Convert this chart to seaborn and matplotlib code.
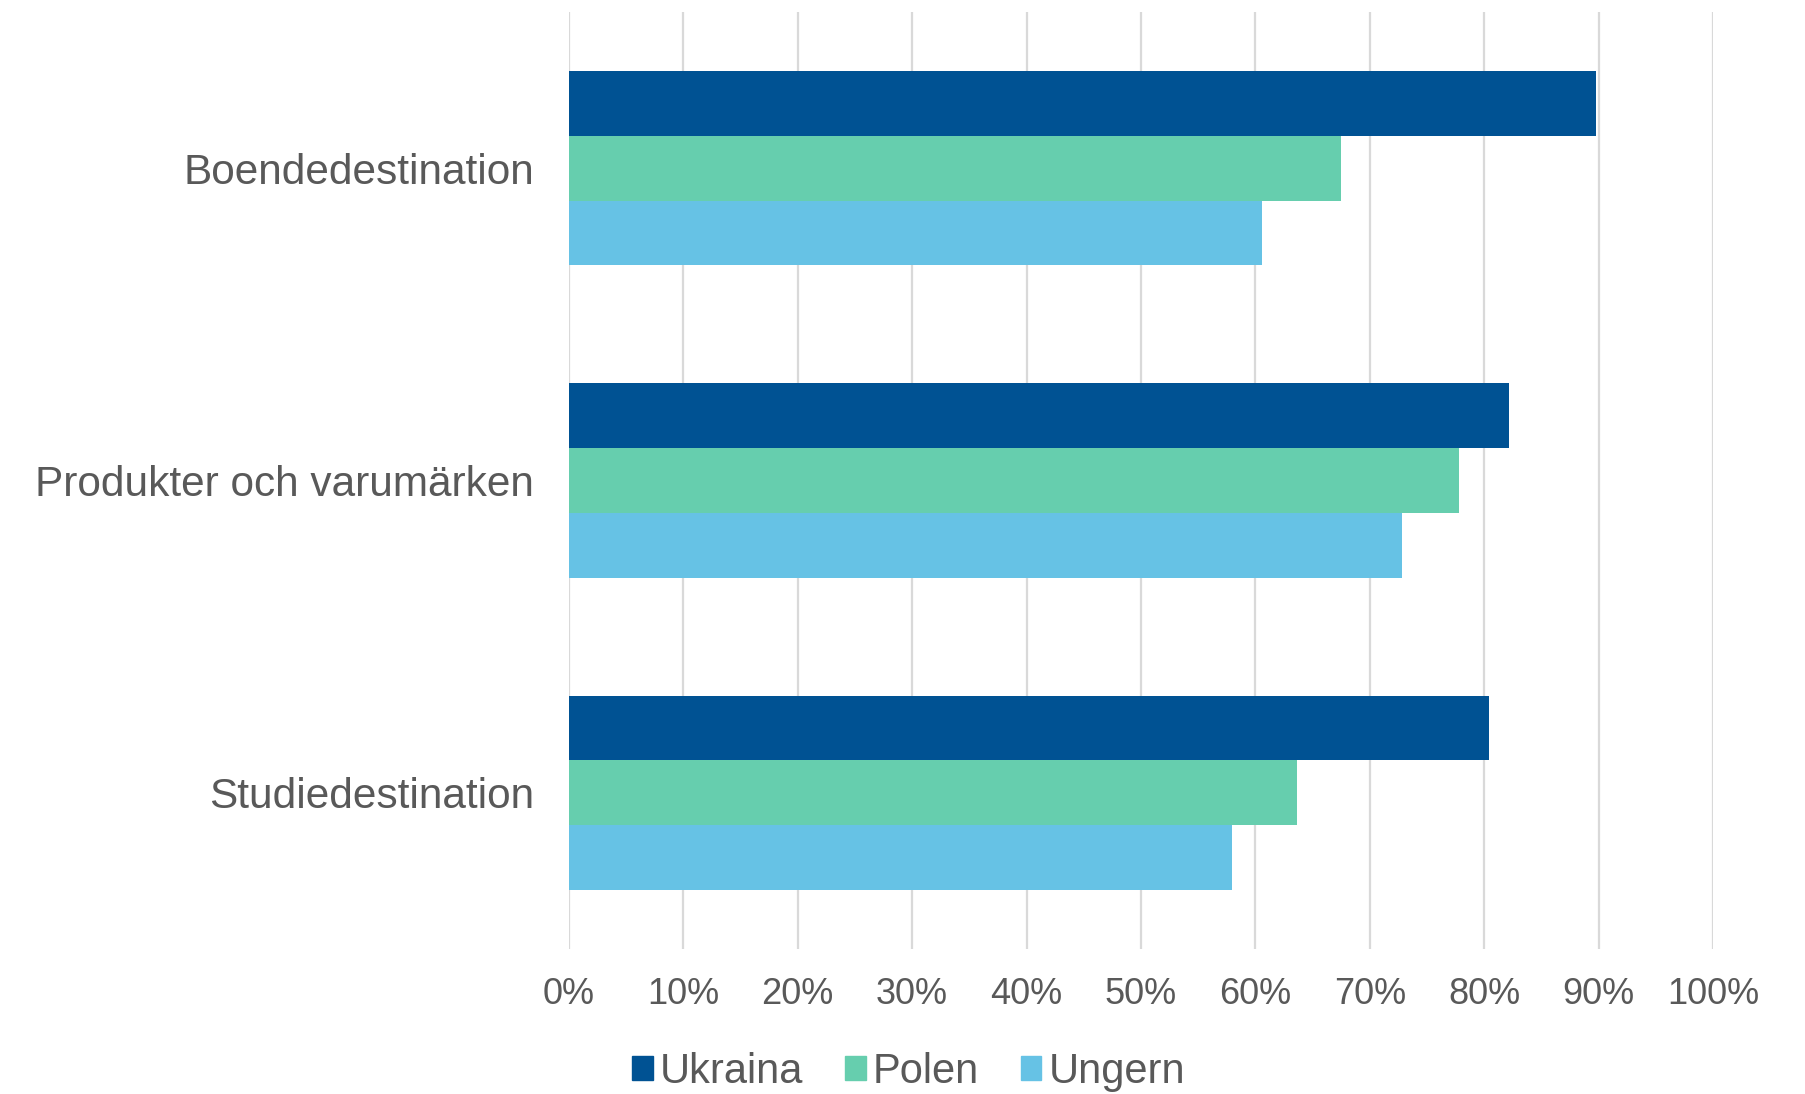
import pandas as pd
import seaborn as sb
import matplotlib.pyplot as plt
from matplotlib.ticker import FuncFormatter

categories = ["Boendedestination", "Produkter och varumärken", "Studiedestination"]
countries = ["Ukraina", "Polen", "Ungern"]
ukraina = [89.8, 82.2, 80.4]
polen = [67.5, 77.8, 63.6]
ungern = [60.6, 72.8, 58.0]
colors = ["#005293", "#66CEAE", "#66C2E5"]

rows = []
for name, vals in zip(countries, [ukraina, polen, ungern]):
    for cat, v in zip(categories, vals):
        rows.append({"kategori": cat, "land": name, "andel": v / 100})
df = pd.DataFrame(rows)

sb.set_style("white")
plt.rcParams["font.family"] = ["Liberation Sans", "DejaVu Sans"]
txt = "#595959"

fig = plt.figure(figsize=(18.06, 10.94), dpi=100)
ax = fig.add_axes([0.315, 0.1325, 0.6335, 0.8565])

sb.barplot(data=df, x="andel", y="kategori", hue="land", palette=colors,
           width=0.622, saturation=1, orient="h", ax=ax, legend=False,
           edgecolor="none")

ax.set_xlim(0, 1)
ax.set_ylim(2.5, -0.5)
ax.set_xticks([i / 10 for i in range(11)])
ax.xaxis.set_major_formatter(FuncFormatter(lambda x, _: f"{x * 100:.0f}%"))
ax.grid(axis="x", color="#d9d9d9", linewidth=1.6)
ax.set_axisbelow(True)
for s in ax.spines.values():
    s.set_visible(False)
ax.set_xlabel("")
ax.set_ylabel("")
ax.tick_params(axis="x", length=0, pad=20, labelsize=26, labelcolor=txt)
ax.tick_params(axis="y", length=0, pad=25, labelsize=30.5, labelcolor=txt)

handles = [plt.Rectangle((0, 0), 1, 1, color=c) for c in colors]
fig.legend(handles, countries, loc="center", bbox_to_anchor=(0.503, 0.02),
           ncol=3, frameon=False, fontsize=30, labelcolor=txt,
           handlelength=0.5, handleheight=0.5, handletextpad=0.17,
           columnspacing=1.0)

plt.savefig("out.png", dpi=100)
